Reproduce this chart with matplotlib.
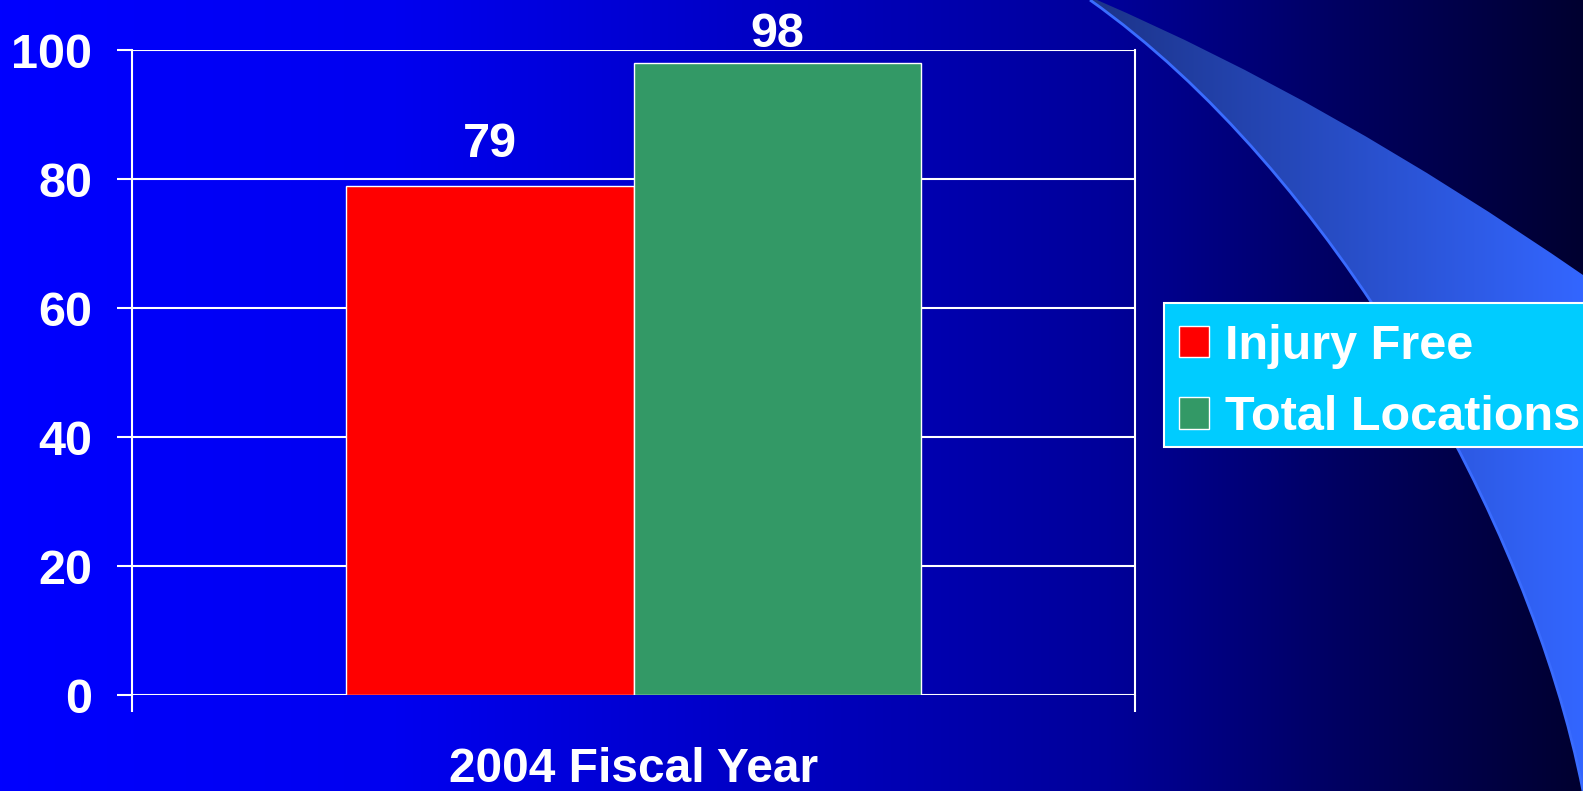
import numpy as np
import matplotlib.pyplot as plt
from matplotlib.path import Path
from matplotlib.patches import PathPatch, Rectangle
from matplotlib.transforms import IdentityTransform

categories = ["2004 Fiscal Year"]
series_names = ["Injury Free", "Total Locations"]
injury_free = [79]
total_locations = [98]
y_ticks = [0, 20, 40, 60, 80, 100]

plt.rcParams['font.family'] = ['Liberation Sans', 'DejaVu Sans']
plt.rcParams['font.weight'] = 'bold'

W, H = 1583, 791
fig = plt.figure(figsize=(W / 100, H / 100), dpi=100)

# background: blue -> near black, left to right
bg = fig.add_axes([0, 0, 1, 1], zorder=0)
bg.axis('off')
xs = np.linspace(0, 1, 400)
blue = np.interp(xs, [0, 0.25, 0.5, 0.7, 0.85, 1.0],
                 [255, 240, 192, 154, 96, 48]) / 255
grad = np.zeros((1, len(xs), 3))
grad[0, :, 2] = blue
bg.imshow(grad, extent=[0, W, H, 0], aspect='auto', interpolation='bilinear')

# decorative swoosh on the right (smooth bezier edges)
verts = [(1097, 0), (1330, 100), (1583, 275),   # upper edge
         (1583, 791),                           # down the right side
         (1530, 520), (1330, 170), (1090, 0),   # lower edge back up
         (1097, 0)]
codes = [Path.MOVETO, Path.CURVE3, Path.CURVE3, Path.LINETO,
         Path.CURVE4, Path.CURVE4, Path.CURVE4, Path.CLOSEPOLY]
swoosh = PathPatch(Path(verts, codes), facecolor='none', edgecolor='none')
bg.add_patch(swoosh)
sx = np.linspace(0, 1, 200)
sg = np.zeros((1, len(sx), 3))
sg[0, :, 0] = np.interp(sx, [0, 1], [0x1c, 0x33]) / 255
sg[0, :, 1] = np.interp(sx, [0, 1], [0x33, 0x66]) / 255
sg[0, :, 2] = np.interp(sx, [0, 0.85, 1], [0x88, 0xee, 0xff]) / 255
im = bg.imshow(sg, extent=[1085, W, H, 0], aspect='auto', interpolation='bilinear')
im.set_clip_path(swoosh)
edge = PathPatch(Path([(1090, 0), (1330, 170), (1530, 520), (1583, 791)],
                      [Path.MOVETO, Path.CURVE4, Path.CURVE4, Path.CURVE4]),
                 facecolor='none', edgecolor='#3a6cff', lw=2)
bg.add_patch(edge)
bg.set_xlim(0, W)
bg.set_ylim(H, 0)

# chart
ax = fig.add_axes([0.0836, 0.1212, 0.6333, 0.8151], zorder=1)
ax.set_facecolor('none')
ax.set_xlim(0, 1)
ax.set_ylim(0, 100)

bw = 0.2865
values = [injury_free, total_locations]
colors = ['#ff0000', '#339966']
handles = []
for i, (name, vals, c) in enumerate(zip(series_names, values, colors)):
    xpos = np.arange(len(categories)) + 0.5 + (i - 0.5) * bw
    b = ax.bar(xpos, vals, width=bw, color=c, edgecolor='white',
               linewidth=1, label=name, zorder=2)
    handles.append(b)
    for x, v in zip(xpos, vals):
        ax.text(x, min(v + 4.5, 100.5), str(v), ha='center', va='baseline',
                color='white', fontsize=35, fontweight='bold', clip_on=False)

ax.set_yticks(y_ticks)
ax.yaxis.grid(True, color='white', lw=1.5, zorder=0)
ax.set_axisbelow(True)
for s in ['top', 'bottom']:
    ax.spines[s].set_visible(False)
for s in ['left', 'right']:
    ax.spines[s].set_color('white')
    ax.spines[s].set_linewidth(1.5)
ax.tick_params(axis='y', colors='white', length=11, width=1.5, pad=18,
               labelsize=35)

ax.set_xticks(np.arange(len(categories)) + 0.5)
ax.set_xticklabels(categories)
ax.set_xticks([0, 1], minor=True)
ax.tick_params(axis='x', which='major', length=0, pad=37, colors='white',
               labelsize=34.5)
ax.tick_params(axis='x', which='minor', length=12, width=1.5, colors='white')

leg = fig.legend(handles=handles, loc='upper left',
                 bbox_to_anchor=(1164 / W, 1 - 309 / H), borderaxespad=0,
                 frameon=False, prop={'size': 35, 'weight': 'bold'},
                 labelcolor='white', handlelength=0.62, handleheight=0.62,
                 handletextpad=0.33, borderpad=0.3, labelspacing=0.55)
leg.set_zorder(6)

# legend box, drawn from the legend's own extent
fig.canvas.draw()
bb = leg.get_window_extent()
box = Rectangle((bb.x0, bb.y0 + 8), bb.width + 40, bb.height - 2,
                transform=IdentityTransform(), facecolor='#00ccff',
                edgecolor='white', lw=1.5, zorder=5)
fig.add_artist(box)

fig.savefig('out.png', dpi=100)
